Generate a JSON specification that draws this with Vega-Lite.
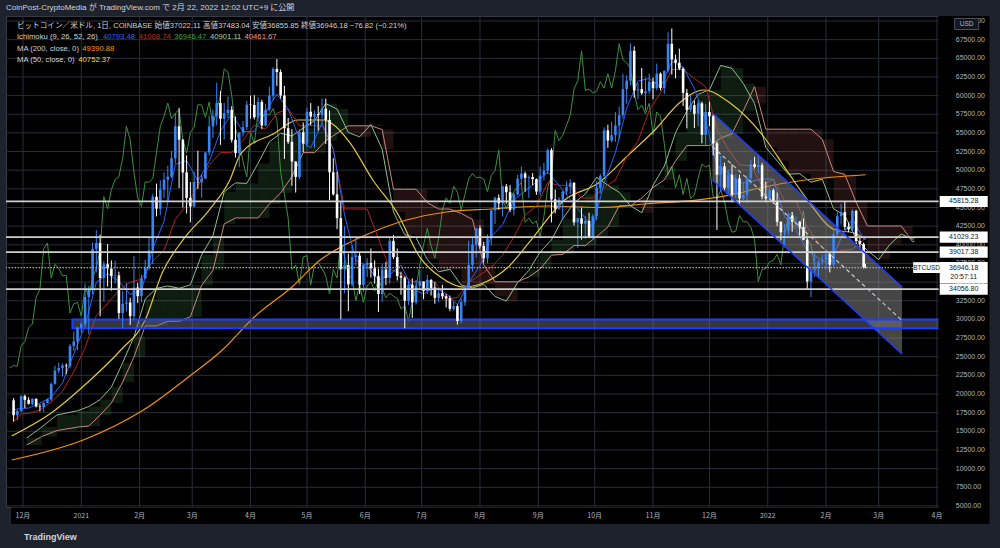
{
"$schema": "https://vega.github.io/schema/vega-lite/v6.json",
"width": 937, "height": 491,
"autosize": {"type": "none"},
"padding": {"left": 6, "top": 16, "right": 57, "bottom": 41},
"background": "#1e222d",
"title": {"text": "CoinPost-CryptoMedia が TradingView.com で 2月 22, 2022 12:02 UTC+9 に公開", "anchor": "start", "frame": "group", "offset": 4, "dy": 6, "baseline": "alphabetic", "font": "Liberation Sans, Noto Sans CJK JP", "fontSize": 8, "fontWeight": "normal", "color": "#d1d4dc"},
"config": {"view": {"fill": "#000000", "stroke": "#363a45"}},
"datasets": {
"candles": [
{"d":"2020-11-26","o":19150,"h":19450,"l":16300,"c":17150},
{"d":"2020-11-28","o":17150,"h":17900,"l":16500,"c":17720},
{"d":"2020-11-30","o":17720,"h":19850,"l":17550,"c":19700},
{"d":"2020-12-02","o":19700,"h":19920,"l":18100,"c":19220},
{"d":"2020-12-04","o":19220,"h":19560,"l":18600,"c":18690},
{"d":"2020-12-06","o":18690,"h":19420,"l":18520,"c":19360},
{"d":"2020-12-08","o":19360,"h":19400,"l":18200,"c":18320},
{"d":"2020-12-10","o":18320,"h":18640,"l":17650,"c":18250},
{"d":"2020-12-12","o":18250,"h":18950,"l":17570,"c":18800},
{"d":"2020-12-14","o":18800,"h":19400,"l":18750,"c":19270},
{"d":"2020-12-16","o":19270,"h":21550,"l":19050,"c":21350},
{"d":"2020-12-18","o":21350,"h":23800,"l":21250,"c":23130},
{"d":"2020-12-20","o":23130,"h":24200,"l":22800,"c":23480},
{"d":"2020-12-22","o":23480,"h":24100,"l":22350,"c":23820},
{"d":"2020-12-24","o":23820,"h":24100,"l":22650,"c":23730},
{"d":"2020-12-26","o":23730,"h":26700,"l":23450,"c":26440},
{"d":"2020-12-28","o":26440,"h":28400,"l":25800,"c":27040},
{"d":"2020-12-30","o":27040,"h":28990,"l":25900,"c":28880},
{"d":"2021-01-01","o":28880,"h":29600,"l":28200,"c":29400},
{"d":"2021-01-03","o":29400,"h":34800,"l":29000,"c":33000},
{"d":"2021-01-05","o":33000,"h":34500,"l":28000,"c":34030},
{"d":"2021-01-07","o":34030,"h":40300,"l":33400,"c":39440},
{"d":"2021-01-09","o":39440,"h":41950,"l":36300,"c":40240},
{"d":"2021-01-11","o":40240,"h":41350,"l":30400,"c":35550},
{"d":"2021-01-13","o":35550,"h":37800,"l":32400,"c":37390},
{"d":"2021-01-15","o":37390,"h":40100,"l":34400,"c":36830},
{"d":"2021-01-17","o":36830,"h":37900,"l":33850,"c":35830},
{"d":"2021-01-19","o":35830,"h":37850,"l":34800,"c":35900},
{"d":"2021-01-21","o":35900,"h":36400,"l":30070,"c":30850},
{"d":"2021-01-23","o":30850,"h":33800,"l":28850,"c":32100},
{"d":"2021-01-25","o":32100,"h":34900,"l":31100,"c":32270},
{"d":"2021-01-27","o":32270,"h":32900,"l":29250,"c":30430},
{"d":"2021-01-29","o":30430,"h":38500,"l":30000,"c":34270},
{"d":"2021-01-31","o":34270,"h":34900,"l":32200,"c":33110},
{"d":"2021-02-02","o":33110,"h":35990,"l":32300,"c":35510},
{"d":"2021-02-04","o":35510,"h":38000,"l":35400,"c":36930},
{"d":"2021-02-06","o":36930,"h":40950,"l":36600,"c":39250},
{"d":"2021-02-08","o":39250,"h":46800,"l":37400,"c":46450},
{"d":"2021-02-10","o":46450,"h":48200,"l":43800,"c":44840},
{"d":"2021-02-12","o":44840,"h":48650,"l":43950,"c":47410},
{"d":"2021-02-14","o":47410,"h":49700,"l":46300,"c":48730},
{"d":"2021-02-16","o":48730,"h":50600,"l":45900,"c":49130},
{"d":"2021-02-18","o":49130,"h":52600,"l":48950,"c":51600},
{"d":"2021-02-20","o":51600,"h":57600,"l":50900,"c":55880},
{"d":"2021-02-22","o":55880,"h":58350,"l":47600,"c":54090},
{"d":"2021-02-24","o":54090,"h":54180,"l":45000,"c":49700},
{"d":"2021-02-26","o":49700,"h":52000,"l":44200,"c":46280},
{"d":"2021-02-28","o":46280,"h":48400,"l":43000,"c":45140},
{"d":"2021-03-02","o":45140,"h":49800,"l":45000,"c":48440},
{"d":"2021-03-04","o":48440,"h":52600,"l":47500,"c":48370},
{"d":"2021-03-06","o":48370,"h":49450,"l":46300,"c":48880},
{"d":"2021-03-08","o":48880,"h":52400,"l":48800,"c":52380},
{"d":"2021-03-10","o":52380,"h":57300,"l":52000,"c":55860},
{"d":"2021-03-12","o":55860,"h":58100,"l":54300,"c":57230},
{"d":"2021-03-14","o":57230,"h":61700,"l":56000,"c":59000},
{"d":"2021-03-16","o":59000,"h":60600,"l":53400,"c":56900},
{"d":"2021-03-18","o":56900,"h":59000,"l":54100,"c":57650},
{"d":"2021-03-20","o":57650,"h":59900,"l":57000,"c":58100},
{"d":"2021-03-22","o":58100,"h":58600,"l":53700,"c":54080},
{"d":"2021-03-24","o":54080,"h":57200,"l":51700,"c":52300},
{"d":"2021-03-26","o":52300,"h":55100,"l":50400,"c":55050},
{"d":"2021-03-28","o":55050,"h":56600,"l":54500,"c":55780},
{"d":"2021-03-30","o":55780,"h":59300,"l":55400,"c":58790},
{"d":"2021-04-01","o":58790,"h":60000,"l":56900,"c":58740},
{"d":"2021-04-03","o":58740,"h":60050,"l":56800,"c":57090},
{"d":"2021-04-05","o":57090,"h":59800,"l":56500,"c":59130},
{"d":"2021-04-07","o":59130,"h":59450,"l":55500,"c":56000},
{"d":"2021-04-09","o":56000,"h":58900,"l":55900,"c":58100},
{"d":"2021-04-11","o":58100,"h":61200,"l":57900,"c":59990},
{"d":"2021-04-13","o":59990,"h":63800,"l":59400,"c":63580},
{"d":"2021-04-15","o":63580,"h":64900,"l":61300,"c":63150},
{"d":"2021-04-17","o":63150,"h":63500,"l":59600,"c":60020},
{"d":"2021-04-19","o":60020,"h":61300,"l":51500,"c":55630},
{"d":"2021-04-21","o":55630,"h":57000,"l":53500,"c":53800},
{"d":"2021-04-23","o":53800,"h":55500,"l":47900,"c":51160},
{"d":"2021-04-25","o":51160,"h":51200,"l":47000,"c":49100},
{"d":"2021-04-27","o":49100,"h":55500,"l":48800,"c":55080},
{"d":"2021-04-29","o":55080,"h":56400,"l":52400,"c":53570},
{"d":"2021-05-01","o":53570,"h":58400,"l":53100,"c":57830},
{"d":"2021-05-03","o":57830,"h":59000,"l":56000,"c":57190},
{"d":"2021-05-05","o":57190,"h":58000,"l":53000,"c":57520},
{"d":"2021-05-07","o":57520,"h":58600,"l":55300,"c":57380},
{"d":"2021-05-09","o":57380,"h":59600,"l":56250,"c":58250},
{"d":"2021-05-11","o":58250,"h":59600,"l":53500,"c":56740},
{"d":"2021-05-13","o":56740,"h":58000,"l":46000,"c":49720},
{"d":"2021-05-15","o":49720,"h":51600,"l":46600,"c":46770},
{"d":"2021-05-17","o":46770,"h":49800,"l":42100,"c":43560},
{"d":"2021-05-19","o":43560,"h":45800,"l":30000,"c":36700},
{"d":"2021-05-21","o":36700,"h":42500,"l":33500,"c":37300},
{"d":"2021-05-23","o":37300,"h":38800,"l":31100,"c":34700},
{"d":"2021-05-25","o":34700,"h":39900,"l":34400,"c":38380},
{"d":"2021-05-27","o":38380,"h":40900,"l":37200,"c":38550},
{"d":"2021-05-29","o":38550,"h":38900,"l":33400,"c":34620},
{"d":"2021-05-31","o":34620,"h":37500,"l":33700,"c":37320},
{"d":"2021-06-02","o":37320,"h":38200,"l":35700,"c":37580},
{"d":"2021-06-04","o":37580,"h":39500,"l":35600,"c":36850},
{"d":"2021-06-06","o":36850,"h":37900,"l":34800,"c":35800},
{"d":"2021-06-08","o":35800,"h":36800,"l":31000,"c":33400},
{"d":"2021-06-10","o":33400,"h":37500,"l":32400,"c":36690},
{"d":"2021-06-12","o":36690,"h":37700,"l":34600,"c":35550},
{"d":"2021-06-14","o":35550,"h":41000,"l":34800,"c":40530},
{"d":"2021-06-16","o":40530,"h":41300,"l":38100,"c":38350},
{"d":"2021-06-18","o":38350,"h":39500,"l":35200,"c":35820},
{"d":"2021-06-20","o":35820,"h":36400,"l":33300,"c":35600},
{"d":"2021-06-22","o":35600,"h":35750,"l":28800,"c":32510},
{"d":"2021-06-24","o":32510,"h":35200,"l":31950,"c":34660},
{"d":"2021-06-26","o":34660,"h":35500,"l":30200,"c":32280},
{"d":"2021-06-28","o":32280,"h":35300,"l":32000,"c":34490},
{"d":"2021-06-30","o":34490,"h":36600,"l":34000,"c":35050},
{"d":"2021-07-02","o":35050,"h":35100,"l":32700,"c":33820},
{"d":"2021-07-04","o":33820,"h":35950,"l":33400,"c":35300},
{"d":"2021-07-06","o":35300,"h":35400,"l":33200,"c":34220},
{"d":"2021-07-08","o":34220,"h":35000,"l":32100,"c":32880},
{"d":"2021-07-10","o":32880,"h":34100,"l":32300,"c":33510},
{"d":"2021-07-12","o":33510,"h":34650,"l":32700,"c":33100},
{"d":"2021-07-14","o":33100,"h":33400,"l":31600,"c":32820},
{"d":"2021-07-16","o":32820,"h":33200,"l":31100,"c":31420},
{"d":"2021-07-18","o":31420,"h":32400,"l":31150,"c":31780},
{"d":"2021-07-20","o":31780,"h":32000,"l":29300,"c":29790},
{"d":"2021-07-22","o":29790,"h":32800,"l":29500,"c":32310},
{"d":"2021-07-24","o":32310,"h":34500,"l":31800,"c":34250},
{"d":"2021-07-26","o":34250,"h":40550,"l":33900,"c":37300},
{"d":"2021-07-28","o":37300,"h":40900,"l":36400,"c":40010},
{"d":"2021-07-30","o":40010,"h":42300,"l":38300,"c":42200},
{"d":"2021-08-01","o":42200,"h":42600,"l":39500,"c":39860},
{"d":"2021-08-03","o":39860,"h":40400,"l":37600,"c":38210},
{"d":"2021-08-05","o":38210,"h":41400,"l":37500,"c":40870},
{"d":"2021-08-07","o":40870,"h":44700,"l":39900,"c":44610},
{"d":"2021-08-09","o":44610,"h":46450,"l":42800,"c":46290},
{"d":"2021-08-11","o":46290,"h":46750,"l":44700,"c":45560},
{"d":"2021-08-13","o":45560,"h":47900,"l":43800,"c":47830},
{"d":"2021-08-15","o":47830,"h":48150,"l":45500,"c":47050},
{"d":"2021-08-17","o":47050,"h":48000,"l":44400,"c":44690},
{"d":"2021-08-19","o":44690,"h":47000,"l":43950,"c":46760},
{"d":"2021-08-21","o":46760,"h":49400,"l":46600,"c":48870},
{"d":"2021-08-23","o":48870,"h":50500,"l":48100,"c":49550},
{"d":"2021-08-25","o":49550,"h":49800,"l":47100,"c":48990},
{"d":"2021-08-27","o":48990,"h":49300,"l":46300,"c":49080},
{"d":"2021-08-29","o":49080,"h":49600,"l":48000,"c":48800},
{"d":"2021-08-31","o":48800,"h":48900,"l":46700,"c":47140},
{"d":"2021-09-02","o":47140,"h":50450,"l":46600,"c":49300},
{"d":"2021-09-04","o":49300,"h":51000,"l":48600,"c":49940},
{"d":"2021-09-06","o":49940,"h":52900,"l":49500,"c":52700},
{"d":"2021-09-08","o":52700,"h":52950,"l":43000,"c":46090},
{"d":"2021-09-10","o":46090,"h":47400,"l":44200,"c":44850},
{"d":"2021-09-12","o":44850,"h":46400,"l":44700,"c":46060},
{"d":"2021-09-14","o":46060,"h":47250,"l":43400,"c":47130},
{"d":"2021-09-16","o":47130,"h":48500,"l":46700,"c":47760},
{"d":"2021-09-18","o":47760,"h":48800,"l":46800,"c":48310},
{"d":"2021-09-20","o":48310,"h":48400,"l":42600,"c":43010},
{"d":"2021-09-22","o":43010,"h":43600,"l":39600,"c":43570},
{"d":"2021-09-24","o":43570,"h":45000,"l":40700,"c":42830},
{"d":"2021-09-26","o":42830,"h":43900,"l":40800,"c":43210},
{"d":"2021-09-28","o":43210,"h":44300,"l":40900,"c":41030},
{"d":"2021-09-30","o":41030,"h":44100,"l":40800,"c":43820},
{"d":"2021-10-02","o":43820,"h":48500,"l":43300,"c":47660},
{"d":"2021-10-04","o":47660,"h":49500,"l":46900,"c":49250},
{"d":"2021-10-06","o":49250,"h":55750,"l":49050,"c":55340},
{"d":"2021-10-08","o":55340,"h":56100,"l":53000,"c":53970},
{"d":"2021-10-10","o":53970,"h":56500,"l":53700,"c":54690},
{"d":"2021-10-12","o":54690,"h":57800,"l":53800,"c":56000},
{"d":"2021-10-14","o":56000,"h":58500,"l":54200,"c":57360},
{"d":"2021-10-16","o":57360,"h":62900,"l":56900,"c":60880},
{"d":"2021-10-18","o":60880,"h":62700,"l":58900,"c":62010},
{"d":"2021-10-20","o":62010,"h":67000,"l":61400,"c":66000},
{"d":"2021-10-22","o":66000,"h":66600,"l":59700,"c":60690},
{"d":"2021-10-24","o":60690,"h":61700,"l":59500,"c":60860},
{"d":"2021-10-26","o":60860,"h":63700,"l":60100,"c":60330},
{"d":"2021-10-28","o":60330,"h":62400,"l":58000,"c":60590},
{"d":"2021-10-30","o":60590,"h":62950,"l":60200,"c":61860},
{"d":"2021-11-01","o":61860,"h":62400,"l":59500,"c":61000},
{"d":"2021-11-03","o":61000,"h":64300,"l":60700,"c":62940},
{"d":"2021-11-05","o":62940,"h":63100,"l":60700,"c":61010},
{"d":"2021-11-07","o":61010,"h":63400,"l":60200,"c":63310},
{"d":"2021-11-09","o":63310,"h":68500,"l":63100,"c":66940},
{"d":"2021-11-11","o":66940,"h":69000,"l":62800,"c":64830},
{"d":"2021-11-13","o":64830,"h":65500,"l":62300,"c":64400},
{"d":"2021-11-15","o":64400,"h":66300,"l":63400,"c":63620},
{"d":"2021-11-17","o":63620,"h":63800,"l":58600,"c":60370},
{"d":"2021-11-19","o":60370,"h":60900,"l":55600,"c":58100},
{"d":"2021-11-21","o":58100,"h":60000,"l":57800,"c":58720},
{"d":"2021-11-23","o":58720,"h":59300,"l":55650,"c":57570},
{"d":"2021-11-25","o":57570,"h":59400,"l":55900,"c":58960},
{"d":"2021-11-27","o":58960,"h":59200,"l":53600,"c":54740},
{"d":"2021-11-29","o":54740,"h":58900,"l":53400,"c":57800},
{"d":"2021-12-01","o":57800,"h":59200,"l":55900,"c":57230},
{"d":"2021-12-03","o":57230,"h":57400,"l":52000,"c":53600},
{"d":"2021-12-05","o":53600,"h":53850,"l":42000,"c":49400},
{"d":"2021-12-07","o":49400,"h":51900,"l":47100,"c":50530},
{"d":"2021-12-09","o":50530,"h":51000,"l":47300,"c":47640},
{"d":"2021-12-11","o":47640,"h":50100,"l":46800,"c":49390},
{"d":"2021-12-13","o":49390,"h":50800,"l":45700,"c":46740},
{"d":"2021-12-15","o":46740,"h":49500,"l":46300,"c":48890},
{"d":"2021-12-17","o":48890,"h":49400,"l":45500,"c":46200},
{"d":"2021-12-19","o":46200,"h":48300,"l":46000,"c":46690},
{"d":"2021-12-21","o":46690,"h":49300,"l":45600,"c":48930},
{"d":"2021-12-23","o":48930,"h":51400,"l":48100,"c":50820},
{"d":"2021-12-25","o":50820,"h":51800,"l":50200,"c":50430},
{"d":"2021-12-27","o":50430,"h":52100,"l":49500,"c":50680},
{"d":"2021-12-29","o":50680,"h":51000,"l":46100,"c":46470},
{"d":"2021-12-31","o":46470,"h":48500,"l":45700,"c":46220},
{"d":"2022-01-02","o":46220,"h":47900,"l":46000,"c":47310},
{"d":"2022-01-04","o":47310,"h":47550,"l":45500,"c":45830},
{"d":"2022-01-06","o":45830,"h":47000,"l":42500,"c":43080},
{"d":"2022-01-08","o":43080,"h":43150,"l":40600,"c":41680},
{"d":"2022-01-10","o":41680,"h":42800,"l":39650,"c":41830},
{"d":"2022-01-12","o":41830,"h":44300,"l":41300,"c":43920},
{"d":"2022-01-14","o":43920,"h":44400,"l":41750,"c":43080},
{"d":"2022-01-16","o":43080,"h":43800,"l":42600,"c":43090},
{"d":"2022-01-18","o":43090,"h":43200,"l":41250,"c":42370},
{"d":"2022-01-20","o":42370,"h":43500,"l":40600,"c":40680},
{"d":"2022-01-22","o":40680,"h":41100,"l":34000,"c":35080},
{"d":"2022-01-24","o":35080,"h":36800,"l":32950,"c":36690},
{"d":"2022-01-26","o":36690,"h":38900,"l":35700,"c":36820},
{"d":"2022-01-28","o":36820,"h":38000,"l":35500,"c":37720},
{"d":"2022-01-30","o":37720,"h":38700,"l":37300,"c":37920},
{"d":"2022-02-01","o":37920,"h":39200,"l":36700,"c":38740},
{"d":"2022-02-03","o":38740,"h":38900,"l":36300,"c":37330},
{"d":"2022-02-05","o":37330,"h":41900,"l":37000,"c":41410},
{"d":"2022-02-07","o":41410,"h":44500,"l":41100,"c":43840},
{"d":"2022-02-09","o":43840,"h":45500,"l":42700,"c":44380},
{"d":"2022-02-11","o":44380,"h":45850,"l":42000,"c":42400},
{"d":"2022-02-13","o":42400,"h":43000,"l":41700,"c":42060},
{"d":"2022-02-15","o":42060,"h":44800,"l":41600,"c":44540},
{"d":"2022-02-17","o":44540,"h":44700,"l":40100,"c":40520},
{"d":"2022-02-19","o":40520,"h":40950,"l":39450,"c":40100},
{"d":"2022-02-21","o":40100,"h":40300,"l":36800,"c":37022.11},
{"d":"2022-02-22","o":37022.11,"h":37483.04,"l":36855.85,"c":36946.18}
],
"chikou": [
{"d":"2020-11-24","v":23480},{"d":"2020-11-26","v":23820},{"d":"2020-11-28","v":23730},{"d":"2020-11-30","v":26440},{"d":"2020-12-02","v":27040},{"d":"2020-12-04","v":28880},{"d":"2020-12-06","v":29400},{"d":"2020-12-08","v":33000},{"d":"2020-12-10","v":34030},{"d":"2020-12-12","v":39440},{"d":"2020-12-14","v":40240},{"d":"2020-12-16","v":35550},{"d":"2020-12-18","v":37390},{"d":"2020-12-20","v":36830},{"d":"2020-12-22","v":35830},{"d":"2020-12-24","v":35900},{"d":"2020-12-26","v":30850},{"d":"2020-12-28","v":32100},{"d":"2020-12-30","v":32270},
{"d":"2021-01-01","v":30430},{"d":"2021-01-03","v":34270},{"d":"2021-01-05","v":33110},{"d":"2021-01-07","v":35510},{"d":"2021-01-09","v":36930},{"d":"2021-01-11","v":39250},{"d":"2021-01-13","v":46450},{"d":"2021-01-15","v":44840},{"d":"2021-01-17","v":47410},{"d":"2021-01-19","v":48730},{"d":"2021-01-21","v":49130},{"d":"2021-01-23","v":51600},{"d":"2021-01-25","v":55880},{"d":"2021-01-27","v":54090},{"d":"2021-01-29","v":49700},{"d":"2021-01-31","v":46280},
{"d":"2021-02-02","v":45140},{"d":"2021-02-04","v":48440},{"d":"2021-02-06","v":48370},{"d":"2021-02-08","v":48880},{"d":"2021-02-10","v":52380},{"d":"2021-02-12","v":55860},{"d":"2021-02-14","v":57230},{"d":"2021-02-16","v":59000},{"d":"2021-02-18","v":56900},{"d":"2021-02-20","v":57650},{"d":"2021-02-22","v":58100},{"d":"2021-02-24","v":54080},{"d":"2021-02-26","v":52300},{"d":"2021-02-28","v":55050},
{"d":"2021-03-02","v":55780},{"d":"2021-03-04","v":58790},{"d":"2021-03-06","v":58740},{"d":"2021-03-08","v":57090},{"d":"2021-03-10","v":59130},{"d":"2021-03-12","v":56000},{"d":"2021-03-14","v":58100},{"d":"2021-03-16","v":59990},{"d":"2021-03-18","v":63580},{"d":"2021-03-20","v":63150},{"d":"2021-03-22","v":60020},{"d":"2021-03-24","v":55630},{"d":"2021-03-26","v":53800},{"d":"2021-03-28","v":51160},{"d":"2021-03-30","v":49100},
{"d":"2021-04-01","v":55080},{"d":"2021-04-03","v":53570},{"d":"2021-04-05","v":57830},{"d":"2021-04-07","v":57190},{"d":"2021-04-09","v":57520},{"d":"2021-04-11","v":57380},{"d":"2021-04-13","v":58250},{"d":"2021-04-15","v":56740},{"d":"2021-04-17","v":49720},{"d":"2021-04-19","v":46770},{"d":"2021-04-21","v":43560},{"d":"2021-04-23","v":36700},{"d":"2021-04-25","v":37300},{"d":"2021-04-27","v":34700},{"d":"2021-04-29","v":38380},
{"d":"2021-05-01","v":38550},{"d":"2021-05-03","v":34620},{"d":"2021-05-05","v":37320},{"d":"2021-05-07","v":37580},{"d":"2021-05-09","v":36850},{"d":"2021-05-11","v":35800},{"d":"2021-05-13","v":33400},{"d":"2021-05-15","v":36690},{"d":"2021-05-17","v":35550},{"d":"2021-05-19","v":40530},{"d":"2021-05-21","v":38350},{"d":"2021-05-23","v":35820},{"d":"2021-05-25","v":35600},{"d":"2021-05-27","v":32510},{"d":"2021-05-29","v":34660},{"d":"2021-05-31","v":32280},
{"d":"2021-06-02","v":34490},{"d":"2021-06-04","v":35050},{"d":"2021-06-06","v":33820},{"d":"2021-06-08","v":35300},{"d":"2021-06-10","v":34220},{"d":"2021-06-12","v":32880},{"d":"2021-06-14","v":33510},{"d":"2021-06-16","v":33100},{"d":"2021-06-18","v":32820},{"d":"2021-06-20","v":31420},{"d":"2021-06-22","v":31780},{"d":"2021-06-24","v":29790},{"d":"2021-06-26","v":32310},{"d":"2021-06-28","v":34250},{"d":"2021-06-30","v":37300},
{"d":"2021-07-02","v":40010},{"d":"2021-07-04","v":42200},{"d":"2021-07-06","v":39860},{"d":"2021-07-08","v":38210},{"d":"2021-07-10","v":40870},{"d":"2021-07-12","v":44610},{"d":"2021-07-14","v":46290},{"d":"2021-07-16","v":45560},{"d":"2021-07-18","v":47830},{"d":"2021-07-20","v":47050},{"d":"2021-07-22","v":44690},{"d":"2021-07-24","v":46760},{"d":"2021-07-26","v":48870},{"d":"2021-07-28","v":49550},{"d":"2021-07-30","v":48990},
{"d":"2021-08-01","v":49080},{"d":"2021-08-03","v":48800},{"d":"2021-08-05","v":47140},{"d":"2021-08-07","v":49300},{"d":"2021-08-09","v":49940},{"d":"2021-08-11","v":52700},{"d":"2021-08-13","v":46090},{"d":"2021-08-15","v":44850},{"d":"2021-08-17","v":46060},{"d":"2021-08-19","v":47130},{"d":"2021-08-21","v":47760},{"d":"2021-08-23","v":48310},{"d":"2021-08-25","v":43010},{"d":"2021-08-27","v":43570},{"d":"2021-08-29","v":42830},{"d":"2021-08-31","v":43210},
{"d":"2021-09-02","v":41030},{"d":"2021-09-04","v":43820},{"d":"2021-09-06","v":47660},{"d":"2021-09-08","v":49250},{"d":"2021-09-10","v":55340},{"d":"2021-09-12","v":53970},{"d":"2021-09-14","v":54690},{"d":"2021-09-16","v":56000},{"d":"2021-09-18","v":57360},{"d":"2021-09-20","v":60880},{"d":"2021-09-22","v":62010},{"d":"2021-09-24","v":66000},{"d":"2021-09-26","v":60690},{"d":"2021-09-28","v":60860},{"d":"2021-09-30","v":60330},
{"d":"2021-10-02","v":60590},{"d":"2021-10-04","v":61860},{"d":"2021-10-06","v":61000},{"d":"2021-10-08","v":62940},{"d":"2021-10-10","v":61010},{"d":"2021-10-12","v":63310},{"d":"2021-10-14","v":66940},{"d":"2021-10-16","v":64830},{"d":"2021-10-18","v":64400},{"d":"2021-10-20","v":63620},{"d":"2021-10-22","v":60370},{"d":"2021-10-24","v":58100},{"d":"2021-10-26","v":58720},{"d":"2021-10-28","v":57570},{"d":"2021-10-30","v":58960},
{"d":"2021-11-01","v":54740},{"d":"2021-11-03","v":57800},{"d":"2021-11-05","v":57230},{"d":"2021-11-07","v":53600},{"d":"2021-11-09","v":49400},{"d":"2021-11-11","v":50530},{"d":"2021-11-13","v":47640},{"d":"2021-11-15","v":49390},{"d":"2021-11-17","v":46740},{"d":"2021-11-19","v":48890},{"d":"2021-11-21","v":46200},{"d":"2021-11-23","v":46690},{"d":"2021-11-25","v":48930},{"d":"2021-11-27","v":50820},{"d":"2021-11-29","v":50430},
{"d":"2021-12-01","v":50680},{"d":"2021-12-03","v":46470},{"d":"2021-12-05","v":46220},{"d":"2021-12-07","v":47310},{"d":"2021-12-09","v":45830},{"d":"2021-12-11","v":43080},{"d":"2021-12-13","v":41680},{"d":"2021-12-15","v":41830},{"d":"2021-12-17","v":43920},{"d":"2021-12-19","v":43080},{"d":"2021-12-21","v":43090},{"d":"2021-12-23","v":42370},{"d":"2021-12-25","v":40680},{"d":"2021-12-27","v":35080},{"d":"2021-12-29","v":36690},{"d":"2021-12-31","v":36820},
{"d":"2022-01-02","v":37720},{"d":"2022-01-04","v":37920},{"d":"2022-01-06","v":38740},{"d":"2022-01-08","v":37330},{"d":"2022-01-10","v":41410},{"d":"2022-01-12","v":43840},{"d":"2022-01-14","v":44380},{"d":"2022-01-16","v":42400},{"d":"2022-01-18","v":42060},{"d":"2022-01-20","v":44540},{"d":"2022-01-22","v":40520},{"d":"2022-01-24","v":40100},{"d":"2022-01-26","v":37022},{"d":"2022-01-27","v":36946}
],
"tk": [
{"d":"2020-11-26","t":17875,"k":16300},{"d":"2020-11-30","t":18075,"k":17325},{"d":"2020-12-04","t":18110,"k":17400},{"d":"2020-12-10","t":18785,"k":17860},{"d":"2020-12-16","t":19560,"k":18925},{"d":"2020-12-22","t":21475,"k":20350},{"d":"2020-12-28","t":25375,"k":22985},{"d":"2021-01-03","t":29125,"k":26185},{"d":"2021-01-09","t":34975,"k":30500},{"d":"2021-01-15","t":36175,"k":32150},{"d":"2021-01-21","t":35085,"k":33875},{"d":"2021-01-27","t":33350,"k":34975},{"d":"2021-02-02","t":33875,"k":35400},{"d":"2021-02-08","t":39500,"k":37825},{"d":"2021-02-14","t":43150,"k":39275},{"d":"2021-02-20","t":50775,"k":43425},{"d":"2021-02-26","t":51275,"k":45325},{"d":"2021-03-04","t":48590,"k":47875},{"d":"2021-03-10","t":51150,"k":50675},{"d":"2021-03-16","t":55250,"k":52350},{"d":"2021-03-22","t":57550,"k":52350},{"d":"2021-03-28","t":55150,"k":54000},{"d":"2021-04-03","t":55225,"k":56050},{"d":"2021-04-09","t":57775,"k":55500},{"d":"2021-04-15","t":60200,"k":57650},{"d":"2021-04-21","t":58200,"k":58200},{"d":"2021-04-27","t":54150,"k":55950},{"d":"2021-05-03","t":53000,"k":55950},{"d":"2021-05-09","t":56300,"k":55950},{"d":"2021-05-15","t":52800,"k":52800},{"d":"2021-05-21","t":44000,"k":44800},{"d":"2021-05-27","t":37900,"k":44800},{"d":"2021-06-02","t":37150,"k":44800},{"d":"2021-06-08","t":35250,"k":40800},{"d":"2021-06-14","t":36000,"k":36750},{"d":"2021-06-20","t":37300,"k":36150},{"d":"2021-06-26","t":34150,"k":35050},{"d":"2021-07-02","t":33400,"k":35050},{"d":"2021-07-08","t":34350,"k":35050},{"d":"2021-07-14","t":33450,"k":32700},{"d":"2021-07-20","t":31975,"k":32950},{"d":"2021-07-26","t":34925,"k":34925},{"d":"2021-08-01","t":37200,"k":35950},{"d":"2021-08-07","t":41100,"k":37000},{"d":"2021-08-13","t":42700,"k":38600},{"d":"2021-08-19","t":45975,"k":41025},{"d":"2021-08-25","t":47225,"k":44000},{"d":"2021-08-31","t":48400,"k":45200},{"d":"2021-09-06","t":49750,"k":48350},{"d":"2021-09-12","t":47975,"k":47975},{"d":"2021-09-18","t":46100,"k":47975},{"d":"2021-09-24","t":44200,"k":46275},{"d":"2021-09-30","t":42300,"k":46275},{"d":"2021-10-06","t":48275,"k":47675},{"d":"2021-10-12","t":52350,"k":48700},{"d":"2021-10-18","t":58300,"k":51800},{"d":"2021-10-24","t":61950,"k":53900},{"d":"2021-10-30","t":62300,"k":58025},{"d":"2021-11-05","t":61150,"k":60400},{"d":"2021-11-11","t":64600,"k":63500},{"d":"2021-11-17","t":63800,"k":63500},{"d":"2021-11-23","t":60950,"k":62300},{"d":"2021-11-29","t":56700,"k":61200},{"d":"2021-12-05","t":50600,"k":55500},{"d":"2021-12-11","t":49700,"k":52800},{"d":"2021-12-17","t":48250,"k":50700},{"d":"2021-12-23","t":48450,"k":50600},{"d":"2021-12-29","t":48850,"k":47925},{"d":"2022-01-04","t":48800,"k":48800},{"d":"2022-01-10","t":43775,"k":45875},{"d":"2022-01-16","t":42025,"k":45875},{"d":"2022-01-22","t":39200,"k":42350},{"d":"2022-01-28","t":38225,"k":40250},{"d":"2022-02-03","t":37350,"k":38675},{"d":"2022-02-09","t":40900,"k":39225},{"d":"2022-02-15","t":43475,"k":39400},{"d":"2022-02-21","t":40800,"k":40675},{"d":"2022-02-22","t":40793,"k":41009}
],
"cloud": [
{"d":"2020-12-03","a":14100,"b":13160},{"d":"2020-12-11","a":15580,"b":14300},{"d":"2020-12-19","a":17180,"b":15100},{"d":"2020-12-30","a":17755,"b":15560},{"d":"2021-01-05","a":18323,"b":15710},{"d":"2021-01-11","a":19243,"b":17175},{"d":"2021-01-17","a":20913,"b":18800},{"d":"2021-01-23","a":24180,"b":21600},{"d":"2021-01-29","a":27655,"b":24950},{"d":"2021-02-04","a":32738,"b":29125},{"d":"2021-02-10","a":34163,"b":29125},{"d":"2021-02-16","a":34480,"b":29760},{"d":"2021-02-22","a":34163,"b":29760},{"d":"2021-02-28","a":34638,"b":30350},{"d":"2021-03-06","a":38663,"b":34575},{"d":"2021-03-12","a":41213,"b":36575},{"d":"2021-03-18","a":47100,"b":42800},{"d":"2021-03-24","a":48300,"b":43600},{"d":"2021-03-30","a":48233,"b":43600},{"d":"2021-04-05","a":50913,"b":43600},{"d":"2021-04-11","a":53800,"b":45475},{"d":"2021-04-17","a":54950,"b":46950},{"d":"2021-04-23","a":54575,"b":49150},{"d":"2021-04-29","a":55638,"b":52350},{"d":"2021-05-05","a":56638,"b":52350},{"d":"2021-05-11","a":58925,"b":53950},{"d":"2021-05-17","a":58200,"b":54950},{"d":"2021-05-23","a":55050,"b":55950},{"d":"2021-05-29","a":54475,"b":55950},{"d":"2021-06-04","a":56125,"b":55950},{"d":"2021-06-10","a":52800,"b":55450},{"d":"2021-06-16","a":44400,"b":47450},{"d":"2021-06-22","a":41350,"b":47450},{"d":"2021-06-28","a":40975,"b":47450},{"d":"2021-07-04","a":38025,"b":45650},{"d":"2021-07-10","a":36375,"b":44800},{"d":"2021-07-16","a":36725,"b":44800},{"d":"2021-07-22","a":34600,"b":44200},{"d":"2021-07-28","a":34225,"b":43400},{"d":"2021-08-03","a":34700,"b":37300},{"d":"2021-08-09","a":33075,"b":35050},{"d":"2021-08-15","a":32463,"b":35050},{"d":"2021-08-21","a":34925,"b":35050},{"d":"2021-08-27","a":36575,"b":35700},{"d":"2021-09-02","a":39050,"b":36750},{"d":"2021-09-08","a":40650,"b":38600},{"d":"2021-09-14","a":43500,"b":38725},{"d":"2021-09-20","a":45613,"b":39900},{"d":"2021-09-26","a":46800,"b":39900},{"d":"2021-10-02","a":49050,"b":41100},{"d":"2021-10-08","a":47975,"b":42375},{"d":"2021-10-14","a":47038,"b":45225},{"d":"2021-10-20","a":45238,"b":45225},{"d":"2021-10-26","a":44288,"b":46275},{"d":"2021-11-01","a":47975,"b":47675},{"d":"2021-11-07","a":50525,"b":48700},{"d":"2021-11-13","a":55050,"b":51250},{"d":"2021-11-19","a":57925,"b":53300},{"d":"2021-11-25","a":60163,"b":53300},{"d":"2021-12-01","a":60775,"b":53300},{"d":"2021-12-07","a":64050,"b":54300},{"d":"2021-12-13","a":63650,"b":54900},{"d":"2021-12-19","a":61625,"b":57950},{"d":"2021-12-25","a":58950,"b":61200},{"d":"2021-12-31","a":53050,"b":55500},{"d":"2022-01-06","a":51250,"b":55500},{"d":"2022-01-12","a":49475,"b":55500},{"d":"2022-01-18","a":49525,"b":55500},{"d":"2022-01-24","a":48388,"b":55500},{"d":"2022-01-30","a":48800,"b":54150},{"d":"2022-02-05","a":44825,"b":49825},{"d":"2022-02-11","a":43950,"b":49425},{"d":"2022-02-17","a":40775,"b":45700},{"d":"2022-02-23","a":39238,"b":42525},{"d":"2022-03-01","a":38013,"b":42525},{"d":"2022-03-07","a":40063,"b":42525},{"d":"2022-03-13","a":41438,"b":42525},{"d":"2022-03-19","a":40738,"b":40425},{"d":"2022-03-20","a":40901,"b":40462}
],
"ma50": [
{"d":"2020-11-25","v":14370},{"d":"2020-12-16","v":17450},{"d":"2021-01-04","v":21470},{"d":"2021-01-22","v":25900},{"d":"2021-02-04","v":29920},{"d":"2021-02-13","v":36220},{"d":"2021-02-24","v":40640},{"d":"2021-03-10","v":44660},{"d":"2021-03-21","v":48690},{"d":"2021-03-27","v":52300},{"d":"2021-04-14","v":54990},{"d":"2021-04-26","v":56730},{"d":"2021-05-10","v":56730},{"d":"2021-05-14","v":56300},{"d":"2021-05-24","v":53640},{"d":"2021-06-05","v":48690},{"d":"2021-06-18","v":44260},{"d":"2021-06-30","v":38360},{"d":"2021-07-11","v":35680},{"d":"2021-07-23","v":34340},{"d":"2021-08-04","v":35010},{"d":"2021-08-16","v":37020},{"d":"2021-08-28","v":40600},{"d":"2021-09-15","v":46000},{"d":"2021-10-03","v":48280},{"d":"2021-10-20","v":52300},{"d":"2021-11-02","v":55390},{"d":"2021-11-15","v":59000},{"d":"2021-11-28","v":60750},{"d":"2021-12-12","v":59000},{"d":"2021-12-30","v":54450},{"d":"2022-01-11","v":50020},{"d":"2022-01-21","v":46400},{"d":"2022-02-06","v":41980},{"d":"2022-02-16","v":41580},{"d":"2022-02-22","v":40752}
],
"ma200": [
{"d":"2020-11-25","v":11150},{"d":"2021-01-02","v":13830},{"d":"2021-02-03","v":17850},{"d":"2021-02-27","v":22280},{"d":"2021-03-17","v":25900},{"d":"2021-04-03","v":30320},{"d":"2021-04-23","v":34340},{"d":"2021-05-08","v":37960},{"d":"2021-05-19","v":39700},{"d":"2021-06-05","v":41720},{"d":"2021-06-23","v":43320},{"d":"2021-07-14","v":44400},{"d":"2021-08-07","v":44800},{"d":"2021-09-06","v":45200},{"d":"2021-10-03","v":45000},{"d":"2021-10-29","v":45500},{"d":"2021-11-24","v":46000},{"d":"2021-12-12","v":46670},{"d":"2021-12-30","v":47750},{"d":"2022-01-21","v":48690},{"d":"2022-02-22","v":49390}
],
"levels": [{"v":45815.28},{"v":41029.23},{"v":39017.38},{"v":34056.80}],
"channel": [{"d":"2021-12-02T14:00:00Z","u":57667,"lo":48686,"m":53177},{"d":"2022-03-13T10:00:00Z","u":34343,"lo":25362,"m":29853}],
"zone": [{"d1":"2020-12-27T07:00:00Z","d2":"2022-06-01","p1":30000,"p2":28800}],
"yticks": [{"p":5000},{"p":7500},{"p":10000},{"p":12500},{"p":15000},{"p":17500},{"p":20000},{"p":22500},{"p":25000},{"p":27500},{"p":30000},{"p":32500},{"p":35000},{"p":37500},{"p":40000},{"p":42500},{"p":45000},{"p":47500},{"p":50000},{"p":52500},{"p":55000},{"p":57500},{"p":60000},{"p":62500},{"p":65000},{"p":67500},{"p":70000}],
"months": [{"d":"2020-12-01","lab":"12月"},{"d":"2021-01-01","lab":"2021"},{"d":"2021-02-01","lab":"2月"},{"d":"2021-03-01","lab":"3月"},{"d":"2021-04-01","lab":"4月"},{"d":"2021-05-01","lab":"5月"},{"d":"2021-06-01","lab":"6月"},{"d":"2021-07-01","lab":"7月"},{"d":"2021-08-01","lab":"8月"},{"d":"2021-09-01","lab":"9月"},{"d":"2021-10-01","lab":"10月"},{"d":"2021-11-01","lab":"11月"},{"d":"2021-12-01","lab":"12月"},{"d":"2022-01-01","lab":"2022"},{"d":"2022-02-01","lab":"2月"},{"d":"2022-03-01","lab":"3月"},{"d":"2022-04-01","lab":"4月"}]
},
"layer": [
 {"data": {"name": "months"}, "mark": {"type": "rule", "color": "#2a2e39", "strokeWidth": 1, "clip": true},
  "encoding": {"x": {"field": "d", "type": "temporal", "scale": {"type": "utc", "domain": [{"year":2020,"month":11,"date":24,"hours":15,"utc":true},{"year":2022,"month":4,"date":1,"hours":13,"utc":true}]}, "axis": null}}},
 {"data": {"name": "yticks"}, "mark": {"type": "rule", "color": "#2a2e39", "strokeWidth": 1},
  "encoding": {"y": {"field": "p", "type": "quantitative", "scale": {"domain": [4853, 70670], "nice": false, "zero": false}, "axis": null}}},
 {"data": {"name": "cloud"}, "transform": [{"window": [{"op": "lead", "field": "d", "as": "dn"}], "sort": [{"field": "d", "order": "ascending"}]}],
  "mark": {"type": "rect", "opacity": 0.15},
  "encoding": {"x": {"field": "d", "type": "temporal", "axis": null}, "x2": {"field": "dn"}, "y": {"field": "a", "type": "quantitative", "axis": null}, "y2": {"field": "b"},
   "color": {"condition": {"test": "datum.a >= datum.b", "value": "#66bb6a"}, "value": "#e57373"}}},
 {"data": {"name": "chikou"}, "mark": {"type": "line", "color": "#3d9140", "strokeWidth": 1, "clip": true},
  "encoding": {"x": {"field": "d", "type": "temporal", "axis": null}, "y": {"field": "v", "type": "quantitative", "axis": null}}},
 {"data": {"name": "cloud"}, "mark": {"type": "line", "color": "#8cbf8c", "strokeWidth": 1},
  "encoding": {"x": {"field": "d", "type": "temporal", "axis": null}, "y": {"field": "a", "type": "quantitative", "axis": null}}},
 {"data": {"name": "cloud"}, "mark": {"type": "line", "color": "#c98580", "strokeWidth": 1},
  "encoding": {"x": {"field": "d", "type": "temporal", "axis": null}, "y": {"field": "b", "type": "quantitative", "axis": null}}},
 {"data": {"name": "ma200"}, "mark": {"type": "line", "color": "#f0900c", "strokeWidth": 1.2, "interpolate": "monotone"},
  "encoding": {"x": {"field": "d", "type": "temporal", "axis": null}, "y": {"field": "v", "type": "quantitative", "axis": null}}},
 {"data": {"name": "ma50"}, "mark": {"type": "line", "color": "#e0c83a", "strokeWidth": 1.2, "interpolate": "monotone"},
  "encoding": {"x": {"field": "d", "type": "temporal", "axis": null}, "y": {"field": "v", "type": "quantitative", "axis": null}}},
 {"data": {"name": "tk"}, "mark": {"type": "line", "color": "#b22222", "strokeWidth": 1},
  "encoding": {"x": {"field": "d", "type": "temporal", "axis": null}, "y": {"field": "k", "type": "quantitative", "axis": null}}},
 {"data": {"name": "tk"}, "mark": {"type": "line", "color": "#2962ff", "strokeWidth": 1},
  "encoding": {"x": {"field": "d", "type": "temporal", "axis": null}, "y": {"field": "t", "type": "quantitative", "axis": null}}},
 {"data": {"name": "channel"}, "mark": {"type": "area", "color": "#8c8c8c", "opacity": 0.5},
  "encoding": {"x": {"field": "d", "type": "temporal", "axis": null}, "y": {"field": "u", "type": "quantitative", "axis": null}, "y2": {"field": "lo"}}},
 {"data": {"name": "zone"}, "mark": {"type": "rect", "fill": "#787b86", "fillOpacity": 0.45, "stroke": "#1f3dff", "strokeWidth": 2, "clip": true},
  "encoding": {"x": {"field": "d1", "type": "temporal", "axis": null}, "x2": {"field": "d2"}, "y": {"field": "p1", "type": "quantitative", "axis": null}, "y2": {"field": "p2"}}},
 {"data": {"name": "candles"}, "mark": {"type": "rule", "strokeWidth": 1},
  "encoding": {"x": {"field": "d", "type": "temporal", "axis": null}, "y": {"field": "l", "type": "quantitative", "axis": null}, "y2": {"field": "h"},
   "color": {"condition": {"test": "datum.c >= datum.o", "value": "#3a84f4"}, "value": "#ffffff"}}},
 {"data": {"name": "candles"}, "mark": {"type": "bar", "width": 2.6},
  "encoding": {"x": {"field": "d", "type": "temporal", "axis": null}, "y": {"field": "o", "type": "quantitative", "axis": null}, "y2": {"field": "c"},
   "color": {"condition": {"test": "datum.c >= datum.o", "value": "#3a84f4"}, "value": "#ffffff"}}},
 {"data": {"name": "levels"}, "mark": {"type": "rule", "color": "#cfcfcf", "strokeWidth": 1.8},
  "encoding": {"y": {"field": "v", "type": "quantitative", "axis": null}}},
 {"data": {"values": [{}]}, "mark": {"type": "rule", "color": "#b0b0b0", "strokeWidth": 1.2, "strokeDash": [1.5, 1.5]},
  "encoding": {"y": {"datum": 36946.18, "type": "quantitative", "axis": null}}},
 {"data": {"name": "channel"}, "mark": {"type": "line", "color": "#1f3dff", "strokeWidth": 1.5},
  "encoding": {"x": {"field": "d", "type": "temporal", "axis": null}, "y": {"field": "u", "type": "quantitative", "axis": null}}},
 {"data": {"name": "channel"}, "mark": {"type": "line", "color": "#1f3dff", "strokeWidth": 1.5},
  "encoding": {"x": {"field": "d", "type": "temporal", "axis": null}, "y": {"field": "lo", "type": "quantitative", "axis": null}}},
 {"data": {"name": "channel"}, "mark": {"type": "line", "color": "#c8c8c8", "strokeWidth": 1.2, "strokeDash": [4, 3]},
  "encoding": {"x": {"field": "d", "type": "temporal", "axis": null}, "y": {"field": "m", "type": "quantitative", "axis": null}}},
 {"data": {"values": [{}]}, "mark": {"type": "rect", "color": "#000000"},
  "encoding": {"x": {"datum": {"year":2022,"month":4,"date":1,"hours":20,"utc":true}, "type": "temporal", "axis": null}, "x2": {"datum": {"year":2022,"month":4,"date":28,"hours":21,"minutes":30,"utc":true}},
   "y": {"datum": 2573, "type": "quantitative", "axis": null}, "y2": {"datum": 70670}}},
 {"data": {"values": [{}]}, "mark": {"type": "rect", "color": "#000000"},
  "encoding": {"x": {"datum": {"year":2020,"month":11,"date":24,"hours":15,"utc":true}, "type": "temporal", "axis": null}, "x2": {"datum": {"year":2022,"month":4,"date":1,"hours":20,"utc":true}},
   "y": {"datum": 2573, "type": "quantitative", "axis": null}, "y2": {"datum": 4786}}},
 {"data": {"name": "yticks"}, "mark": {"type": "text", "font": "Liberation Sans", "fontSize": 7, "color": "#b2b5be", "align": "left", "baseline": "middle"},
  "encoding": {"x": {"datum": {"year":2022,"month":4,"date":11,"utc":true}, "type": "temporal", "axis": null}, "y": {"field": "p", "type": "quantitative", "axis": null}, "text": {"field": "p", "format": ".2f"}}},
 {"data": {"name": "months"}, "mark": {"type": "text", "font": "Noto Sans CJK JP", "fontSize": 7, "color": "#b2b5be", "align": "center", "baseline": "middle"},
  "encoding": {"x": {"field": "d", "type": "temporal", "axis": null}, "y": {"datum": 3645, "type": "quantitative", "axis": null}, "text": {"field": "lab"}}},
 {"data": {"values": [{}]}, "mark": {"type": "text", "text": "TradingView", "font": "Liberation Sans", "fontSize": 9, "fontWeight": "bold", "color": "#d1d4dc", "align": "left", "baseline": "middle"},
  "encoding": {"x": {"datum": {"year":2020,"month":12,"date":1,"hours":12,"utc":true}, "type": "temporal", "axis": null}, "y": {"datum": 830, "type": "quantitative", "axis": null}}},
 {"data": {"values": [{}]}, "mark": {"type": "point", "shape": "M-1,-0.46H1V0.46H-1Z", "size": 576, "filled": true, "color": "#131722", "stroke": "#50535e", "strokeWidth": 1, "opacity": 1},
  "encoding": {"x": {"datum": {"year":2022,"month":4,"date":16,"hours":19,"utc":true}, "type": "temporal", "axis": null}, "y": {"datum": 69598, "type": "quantitative", "axis": null}}},
 {"data": {"values": [{}]}, "mark": {"type": "text", "text": "USD", "font": "Liberation Sans", "fontSize": 6.5, "color": "#b2b5be", "align": "center", "baseline": "middle"},
  "encoding": {"x": {"datum": {"year":2022,"month":4,"date":16,"hours":19,"utc":true}, "type": "temporal", "axis": null}, "y": {"datum": 69598, "type": "quantitative", "axis": null}}},
 {"data": {"name": "levels"}, "mark": {"type": "point", "shape": "M-1,-0.23H1V0.23H-1Z", "size": 2304, "filled": true, "color": "#ffffff", "opacity": 1},
  "encoding": {"x": {"datum": {"year":2022,"month":4,"date":15,"hours":5,"utc":true}, "type": "temporal", "axis": null}, "y": {"field": "v", "type": "quantitative", "axis": null}}},
 {"data": {"name": "levels"}, "mark": {"type": "text", "font": "Liberation Sans", "fontSize": 7, "color": "#131722", "align": "center", "baseline": "middle"},
  "encoding": {"x": {"datum": {"year":2022,"month":4,"date":15,"hours":5,"utc":true}, "type": "temporal", "axis": null}, "y": {"field": "v", "type": "quantitative", "axis": null}, "text": {"field": "v", "format": ".2f"}}},
 {"data": {"values": [{}]}, "mark": {"type": "point", "shape": "M-1,-0.23H1V0.65H-1Z", "size": 2304, "filled": true, "color": "#ffffff", "opacity": 1},
  "encoding": {"x": {"datum": {"year":2022,"month":4,"date":15,"hours":5,"utc":true}, "type": "temporal", "axis": null}, "y": {"datum": 36946.18, "type": "quantitative", "axis": null}}},
 {"data": {"values": [{}]}, "mark": {"type": "text", "text": "36946.18", "font": "Liberation Sans", "fontSize": 7, "color": "#131722", "align": "center", "baseline": "middle"},
  "encoding": {"x": {"datum": {"year":2022,"month":4,"date":15,"hours":5,"utc":true}, "type": "temporal", "axis": null}, "y": {"datum": 36946.18, "type": "quantitative", "axis": null}}},
 {"data": {"values": [{}]}, "mark": {"type": "text", "text": "20:57:11", "font": "Liberation Sans", "fontSize": 7, "color": "#131722", "align": "center", "baseline": "middle", "dy": 9.5},
  "encoding": {"x": {"datum": {"year":2022,"month":4,"date":15,"hours":5,"utc":true}, "type": "temporal", "axis": null}, "y": {"datum": 36946.18, "type": "quantitative", "axis": null}}},
 {"data": {"values": [{}]}, "mark": {"type": "point", "shape": "M-1,-0.4H1V0.4H-1Z", "size": 729, "filled": true, "color": "#ffffff", "opacity": 1},
  "encoding": {"x": {"datum": {"year":2022,"month":3,"date":26,"hours":12,"utc":true}, "type": "temporal", "axis": null}, "y": {"datum": 36946.18, "type": "quantitative", "axis": null}}},
 {"data": {"values": [{}]}, "mark": {"type": "text", "text": "BTCUSD", "font": "Liberation Sans", "fontSize": 6.5, "color": "#131722", "align": "center", "baseline": "middle"},
  "encoding": {"x": {"datum": {"year":2022,"month":3,"date":26,"hours":12,"utc":true}, "type": "temporal", "axis": null}, "y": {"datum": 36946.18, "type": "quantitative", "axis": null}}},
 {"data": {"values": [{}]}, "mark": {"type": "text", "text": "ビットコイン／米ドル, 1日, COINBASE  始値37022.11  高値37483.04  安値36855.85  終値36946.18  −76.82 (−0.21%)", "font": "Liberation Sans, Noto Sans CJK JP", "fontSize": 7.6, "color": "#d1d4dc", "align": "left", "baseline": "middle"},
  "encoding": {"x": {"datum": {"year":2020,"month":11,"date":27,"hours":19,"minutes":24,"utc":true}, "type": "temporal", "axis": null}, "y": {"datum": 69330, "type": "quantitative", "axis": null}}},
 {"data": {"values": [{}]}, "mark": {"type": "text", "text": "Ichimoku (9, 26, 52, 26)", "font": "Liberation Sans", "fontSize": 7.7, "color": "#d1d4dc", "align": "left", "baseline": "middle"},
  "encoding": {"x": {"datum": {"year":2020,"month":11,"date":27,"hours":19,"minutes":24,"utc":true}, "type": "temporal", "axis": null}, "y": {"datum": 67855, "type": "quantitative", "axis": null}}},
 {"data": {"values": [{}]}, "mark": {"type": "text", "text": "40793.48", "font": "Liberation Sans", "fontSize": 7.7, "color": "#2962ff", "align": "left", "baseline": "middle"},
  "encoding": {"x": {"datum": {"year":2021,"month":1,"date":12,"hours":13,"minutes":40,"utc":true}, "type": "temporal", "axis": null}, "y": {"datum": 67855, "type": "quantitative", "axis": null}}},
 {"data": {"values": [{}]}, "mark": {"type": "text", "text": "41008.74", "font": "Liberation Sans", "fontSize": 7.7, "color": "#c62828", "align": "left", "baseline": "middle"},
  "encoding": {"x": {"datum": {"year":2021,"month":1,"date":31,"hours":12,"minutes":15,"utc":true}, "type": "temporal", "axis": null}, "y": {"datum": 67855, "type": "quantitative", "axis": null}}},
 {"data": {"values": [{}]}, "mark": {"type": "text", "text": "36946.47", "font": "Liberation Sans", "fontSize": 7.7, "color": "#43a047", "align": "left", "baseline": "middle"},
  "encoding": {"x": {"datum": {"year":2021,"month":2,"date":19,"hours":10,"minutes":50,"utc":true}, "type": "temporal", "axis": null}, "y": {"datum": 67855, "type": "quantitative", "axis": null}}},
 {"data": {"values": [{}]}, "mark": {"type": "text", "text": "40901.11", "font": "Liberation Sans", "fontSize": 7.7, "color": "#a5d6a7", "align": "left", "baseline": "middle"},
  "encoding": {"x": {"datum": {"year":2021,"month":3,"date":10,"hours":9,"minutes":10,"utc":true}, "type": "temporal", "axis": null}, "y": {"datum": 67855, "type": "quantitative", "axis": null}}},
 {"data": {"values": [{}]}, "mark": {"type": "text", "text": "40461.67", "font": "Liberation Sans", "fontSize": 7.7, "color": "#ef9a9a", "align": "left", "baseline": "middle"},
  "encoding": {"x": {"datum": {"year":2021,"month":3,"date":28,"hours":19,"minutes":10,"utc":true}, "type": "temporal", "axis": null}, "y": {"datum": 67855, "type": "quantitative", "axis": null}}},
 {"data": {"values": [{}]}, "mark": {"type": "text", "text": "MA (200, close, 0)", "font": "Liberation Sans", "fontSize": 7.7, "color": "#d1d4dc", "align": "left", "baseline": "middle"},
  "encoding": {"x": {"datum": {"year":2020,"month":11,"date":27,"hours":19,"minutes":24,"utc":true}, "type": "temporal", "axis": null}, "y": {"datum": 66246, "type": "quantitative", "axis": null}}},
 {"data": {"values": [{}]}, "mark": {"type": "text", "text": "49390.88", "font": "Liberation Sans", "fontSize": 7.7, "color": "#ff9800", "align": "left", "baseline": "middle"},
  "encoding": {"x": {"datum": {"year":2021,"month":1,"date":1,"hours":12,"minutes":40,"utc":true}, "type": "temporal", "axis": null}, "y": {"datum": 66246, "type": "quantitative", "axis": null}}},
 {"data": {"values": [{}]}, "mark": {"type": "text", "text": "MA (50, close, 0)", "font": "Liberation Sans", "fontSize": 7.7, "color": "#d1d4dc", "align": "left", "baseline": "middle"},
  "encoding": {"x": {"datum": {"year":2020,"month":11,"date":27,"hours":19,"minutes":24,"utc":true}, "type": "temporal", "axis": null}, "y": {"datum": 64772, "type": "quantitative", "axis": null}}},
 {"data": {"values": [{}]}, "mark": {"type": "text", "text": "40752.37", "font": "Liberation Sans", "fontSize": 7.7, "color": "#fdd835", "align": "left", "baseline": "middle"},
  "encoding": {"x": {"datum": {"year":2020,"month":12,"date":30,"hours":10,"minutes":5,"utc":true}, "type": "temporal", "axis": null}, "y": {"datum": 64772, "type": "quantitative", "axis": null}}}
]
}
